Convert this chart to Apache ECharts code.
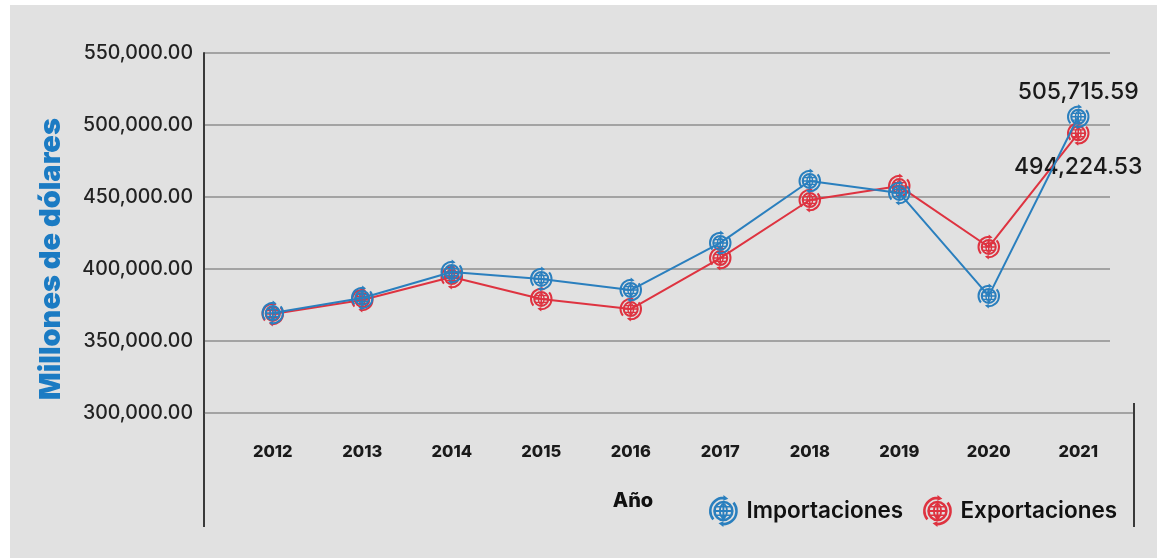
<!DOCTYPE html>
<html>
<head>
<meta charset="utf-8">
<script src="https://cdn.jsdelivr.net/npm/echarts@6/dist/echarts.min.js"></script>
<style>
  html, body { margin: 0; padding: 0; background: #ffffff; }
  #chart { width: 1157px; height: 558px; }
</style>
</head>
<body>
<div id="chart"></div>
<script>
// Años y valores (millones de dólares)
const years = ['2012', '2013', '2014', '2015', '2016', '2017', '2018', '2019', '2020', '2021'];
const importaciones = [369400, 379900, 397900, 393100, 385400, 418100, 461100, 452800, 381300, 505715.59];
const exportaciones = [368800, 378500, 394400, 379200, 372200, 407600, 447900, 457600, 415300, 494224.53];
const yTicks = [300000, 350000, 400000, 450000, 500000, 550000];

const BLUE = '#2a7fbe';
const RED = '#de3340';
const FONT = 'Inter';

const fmt = v => v.toLocaleString('en-US', { minimumFractionDigits: 2, maximumFractionDigits: 2 });

// ---- Globe-with-arrows icon as a single filled path (nonzero winding) ----
const n = v => v.toFixed(2);
const pt = (r, deg) => { const t = deg * Math.PI / 180; return [50 + r * Math.cos(t), 50 + r * Math.sin(t)]; };
function circle(r, cw) {
  const s = cw ? 1 : 0;
  return `M${n(50 + r)} 50A${r} ${r} 0 1 ${s} ${n(50 - r)} 50A${r} ${r} 0 1 ${s} ${n(50 + r)} 50Z`;
}
function ellipse(rx, ry, cw) {
  const s = cw ? 1 : 0;
  return `M50 ${n(50 - ry)}A${rx} ${ry} 0 1 ${s} 50 ${n(50 + ry)}A${rx} ${ry} 0 1 ${s} 50 ${n(50 - ry)}Z`;
}
function rect(x1, y1, x2, y2) { return `M${n(x1)} ${n(y1)}H${n(x2)}V${n(y2)}H${n(x1)}Z`; }
function arcBand(ri, ro, a0, a1) {
  const p0 = pt(ro, a0), p1 = pt(ro, a1), p2 = pt(ri, a1), p3 = pt(ri, a0);
  return `M${n(p0[0])} ${n(p0[1])}A${ro} ${ro} 0 0 1 ${n(p1[0])} ${n(p1[1])}` +
         `L${n(p2[0])} ${n(p2[1])}A${ri} ${ri} 0 0 0 ${n(p3[0])} ${n(p3[1])}Z`;
}
function poly(pts) {
  let s = 0;
  for (let i = 0; i < pts.length; i++) {
    const a = pts[i], b = pts[(i + 1) % pts.length];
    s += a[0] * b[1] - b[0] * a[1];
  }
  if (s < 0) pts = pts.slice().reverse();
  return 'M' + pts.map(p => n(p[0]) + ' ' + n(p[1])).join('L') + 'Z';
}
function arrowArc(a0, a1) {
  const ri = 37, ro = 45, rm = (ri + ro) / 2;
  return arcBand(ri, ro, a0, a1) + poly([pt(ri - 5, a1), pt(ro + 5, a1), pt(rm, a1 + 22)]);
}
const globeIcon = 'path://' + [
  circle(32, true), circle(24, false),
  ellipse(14, 24, true), ellipse(8, 19, false),
  rect(24, 47, 76, 53), rect(47, 24, 53, 76),
  rect(27, 34, 73, 39), rect(27, 61, 73, 66),
  arrowArc(140, 270), arrowArc(320, 450)
].join('');

const chart = echarts.init(document.getElementById('chart'));
const last = years.length - 1;

chart.setOption({
  animation: false,
  textStyle: { fontFamily: FONT },
  grid: [
    { left: 204, right: 47, top: 53, bottom: 145 },
    { left: 228, right: 34, top: 53, bottom: 145 }
  ],
  xAxis: [
    { gridIndex: 0, type: 'category', data: years, show: false },
    {
      gridIndex: 1, type: 'category', data: years, boundaryGap: true,
      axisLine: { show: false }, axisTick: { show: false },
      axisLabel: { margin: 31, color: '#1a1a1a', fontSize: 16.5, fontWeight: 800, fontFamily: FONT }
    }
  ],
  yAxis: [
    {
      gridIndex: 0, type: 'value', min: yTicks[0], max: yTicks[yTicks.length - 1], interval: 50000,
      axisLine: { show: true, lineStyle: { color: '#3a3a3a', width: 2 } },
      axisTick: { show: false },
      splitLine: { show: true, lineStyle: { color: '#8e8e8e', width: 1.5 } },
      axisLabel: { margin: 11, color: '#222', fontSize: 19.5, fontWeight: 500, fontFamily: FONT, formatter: v => fmt(v) }
    },
    {
      gridIndex: 1, type: 'value', min: yTicks[0], max: yTicks[yTicks.length - 1], show: false
    }
  ],
  legend: {
    left: 704, top: 490, itemWidth: 32, itemHeight: 32, itemGap: 20,
    textStyle: { color: '#111', fontSize: 22.5, fontWeight: 600, fontFamily: FONT, padding: [0, 0, 0, 2] },
    data: [
      { name: 'Importaciones', icon: globeIcon },
      { name: 'Exportaciones', icon: globeIcon }
    ]
  },
  graphic: [
    { type: 'rect', z: -10, shape: { x: 10, y: 5, width: 1147, height: 553 }, style: { fill: '#e1e1e1' } },
    { type: 'line', shape: { x1: 204, y1: 412, x2: 204, y2: 527 }, style: { stroke: '#3a3a3a', lineWidth: 2 } },
    { type: 'line', shape: { x1: 1110, y1: 413, x2: 1134, y2: 413 }, style: { stroke: '#8e8e8e', lineWidth: 1.5 } },
    { type: 'line', shape: { x1: 1134, y1: 403, x2: 1134, y2: 527 }, style: { stroke: '#3a3a3a', lineWidth: 2 } },
    {
      type: 'text', x: 51, y: 259, rotation: Math.PI / 2,
      style: { text: 'Millones de dólares', fill: '#1b7bc3', font: `900 29px ${FONT}`, align: 'center', verticalAlign: 'middle' }
    },
    {
      type: 'text', x: 633, y: 501,
      style: { text: 'Año', fill: '#111', font: `800 20px ${FONT}`, align: 'center', verticalAlign: 'middle' }
    }
  ],
  series: [
    {
      name: 'Exportaciones', type: 'line', xAxisIndex: 1, yAxisIndex: 1, z: 2,
      data: exportaciones, symbol: globeIcon, symbolSize: 25, symbolKeepAspect: true,
      lineStyle: { color: RED, width: 2 }, itemStyle: { color: RED },
      label: {
        show: true, position: 'bottom', distance: 10, color: '#1a1a1a', fontSize: 23, fontWeight: 500, fontFamily: FONT,
        formatter: p => p.dataIndex === last ? fmt(p.value) : ''
      }
    },
    {
      name: 'Importaciones', type: 'line', xAxisIndex: 1, yAxisIndex: 1, z: 3,
      data: importaciones, symbol: globeIcon, symbolSize: 25, symbolKeepAspect: true,
      lineStyle: { color: BLUE, width: 2 }, itemStyle: { color: BLUE },
      label: {
        show: true, position: 'top', distance: 1, color: '#1a1a1a', fontSize: 23, fontWeight: 500, fontFamily: FONT,
        formatter: p => p.dataIndex === last ? fmt(p.value) : ''
      }
    }
  ]
});
</script>
</body>
</html>
